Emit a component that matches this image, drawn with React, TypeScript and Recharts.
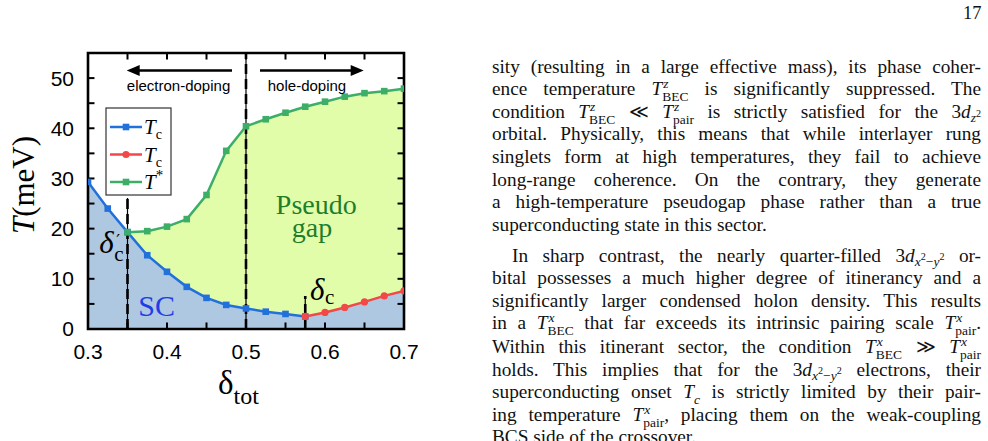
import React from 'react'
import {
  ComposedChart,
  Area,
  Line,
  XAxis,
  YAxis,
  ReferenceLine,
  ReferenceArea,
  ReferenceDot,
  Label,
} from 'recharts'

// total doping (x axis)
const doping = [0.3, 0.325, 0.35, 0.375, 0.4, 0.425, 0.45, 0.475, 0.5, 0.525, 0.55, 0.575, 0.6, 0.625, 0.65, 0.675, 0.7]
// Tc on the electron-doped / low-doping side (blue)
const tcBlue = [29.3, 24.0, 19.3, 14.7, 11.4, 8.4, 6.2, 4.8, 4.1, 3.45, 3.0, 2.5, null, null, null, null, null]
// Tc beyond delta_c (red)
const tcRed = [null, null, null, null, null, null, null, null, null, null, null, 2.5, 3.3, 4.3, 5.4, 6.6, 7.6]
// pseudogap temperature T*
const tStar = [null, null, 19.3, 19.5, 20.4, 21.9, 26.7, 35.5, 40.4, 41.8, 43.1, 44.3, 45.3, 46.3, 47.0, 47.4, 47.9]

const xTicks = [0.3, 0.4, 0.5, 0.6, 0.7]
const yTicks = [0, 10, 20, 30, 40, 50]
const xMinor = [0.35, 0.4, 0.45, 0.5, 0.55, 0.6, 0.65]
const yMinor = [5, 10, 15, 20, 25, 30, 35, 40, 45, 50]

const rows = doping.map((d, i) => ({
  d,
  tcBlue: tcBlue[i],
  tcRed: tcRed[i],
  tc: tcBlue[i] ?? tcRed[i],
  tStar: tStar[i],
}))

const BLUE = '#2170dc'
const RED = '#f24848'
const GREEN = '#3cae68'
const SC_FILL = '#aec8e2'
const PG_FILL = '#e2fdaa'
const SERIF = '"Liberation Serif", "Times New Roman", serif'
const SANS = '"Liberation Sans", Arial, sans-serif'

const X0 = 0.3
const X1 = 0.7
const Y0 = 0
const Y1 = 55

const squareDot = (color: string) => (p: any) => {
  if (p.cx == null || p.cy == null || p.value == null) return <g key={p.index} />
  return <rect key={p.index} x={p.cx - 3.3} y={p.cy - 3.3} width={6.6} height={6.6} fill={color} />
}

const roundDot = (color: string) => (p: any) => {
  if (p.cx == null || p.cy == null || p.value == null) return <g key={p.index} />
  return <circle key={p.index} cx={p.cx} cy={p.cy} r={3.6} fill={color} />
}

const arrow = (p: any) => {
  const { x1, y1, x2, y2 } = p
  const dir = Math.sign(x2 - x1)
  return (
    <g>
      <line x1={x1} y1={y1} x2={x2 - dir * 8} y2={y2} stroke="#000" strokeWidth={2.4} />
      <polygon points={`${x2},${y2} ${x2 - dir * 13},${y2 - 5.5} ${x2 - dir * 13},${y2 + 5.5}`} fill="#000" />
    </g>
  )
}

// thin solid line with heavy dashes on top
const dashedMarker = (p: any) => (
  <g>
    <line x1={p.x1} y1={p.y1} x2={p.x2} y2={p.y2} stroke="#000" strokeWidth={1.2} />
    <line x1={p.x1} y1={p.y1} x2={p.x2} y2={p.y2} stroke="#000" strokeWidth={2.6} strokeDasharray="10 5" />
  </g>
)

const tickMark = (p: any) => <line x1={p.x1} y1={p.y1} x2={p.x2} y2={p.y2} stroke="#000" strokeWidth={2} />

function Chart() {
  return (
    <ComposedChart
      width={470}
      height={441}
      data={rows}
      margin={{ top: 53, right: 66, left: 0, bottom: 82 }}
    >
      <XAxis
        dataKey="d"
        type="number"
        domain={[X0, X1]}
        ticks={xTicks}
        tickFormatter={(v: number) => v.toFixed(1)}
        axisLine={false}
        tickLine={false}
        tickMargin={9}
        height={30}
        tick={{ fill: '#000', fontSize: 21, fontFamily: SANS }}
        allowDataOverflow
      >
        <Label
          content={(p: any) => {
            const vb = p.viewBox
            const x = vb.x + 130
            const y = vb.y + 65
            return (
              <text x={x} y={y} fontFamily={SERIF} fontSize={33} fill="#000">
                δ<tspan fontSize={24} dy={10}>tot</tspan>
              </text>
            )
          }}
        />
      </XAxis>
      <YAxis
        type="number"
        domain={[Y0, Y1]}
        ticks={yTicks}
        axisLine={false}
        tickLine={false}
        tickMargin={8}
        width={88}
        tick={{ fill: '#000', fontSize: 21, fontFamily: SANS }}
        allowDataOverflow
      >
        <Label
          content={(p: any) => {
            const vb = p.viewBox
            const x = vb.x + 34
            const y = vb.y + vb.height / 2 - 6
            return (
              <text
                x={x}
                y={y}
                transform={`rotate(-90 ${x} ${y})`}
                textAnchor="middle"
                fontFamily={SERIF}
                fontSize={31}
                fill="#000"
              >
                <tspan fontStyle="italic">T</tspan>(meV)
              </text>
            )
          }}
        />
      </YAxis>

      <Area dataKey="tStar" fill={PG_FILL} fillOpacity={1} stroke="none" isAnimationActive={false} />
      <Area dataKey="tc" fill={SC_FILL} fillOpacity={1} stroke="none" isAnimationActive={false} />

      <ReferenceLine segment={[{ x: 0.35, y: 0 }, { x: 0.35, y: 26.1 }]} shape={dashedMarker} />
      <ReferenceLine segment={[{ x: 0.5, y: 0 }, { x: 0.5, y: Y1 }]} shape={dashedMarker} />
      <ReferenceLine segment={[{ x: 0.575, y: 0 }, { x: 0.575, y: 6.6 }]} shape={dashedMarker} />

      <ReferenceLine segment={[{ x: 0.4823, y: 51.5 }, { x: 0.349, y: 51.5 }]} shape={arrow} />
      <ReferenceLine segment={[{ x: 0.5177, y: 51.5 }, { x: 0.649, y: 51.5 }]} shape={arrow} />

      {xMinor.map((v) => (
        <ReferenceLine key={`xb${v}`} segment={[{ x: v, y: Y0 }, { x: v, y: Y0 + 1.3 }]} shape={tickMark} />
      ))}
      {xMinor.map((v) => (
        <ReferenceLine key={`xt${v}`} segment={[{ x: v, y: Y1 }, { x: v, y: Y1 - 1.3 }]} shape={tickMark} />
      ))}
      {yMinor.map((v) => (
        <ReferenceLine key={`yl${v}`} segment={[{ x: X0, y: v }, { x: X0 + 0.0082, y: v }]} shape={tickMark} />
      ))}
      {yMinor.map((v) => (
        <ReferenceLine key={`yr${v}`} segment={[{ x: X1, y: v }, { x: X1 - 0.0082, y: v }]} shape={tickMark} />
      ))}

      <Line
        dataKey="tcBlue"
        stroke={BLUE}
        strokeWidth={2.5}
        dot={squareDot(BLUE)}
        activeDot={false}
        isAnimationActive={false}
      />
      <Line
        dataKey="tcRed"
        stroke={RED}
        strokeWidth={2.5}
        dot={roundDot(RED)}
        activeDot={false}
        isAnimationActive={false}
      />
      <Line
        dataKey="tStar"
        stroke={GREEN}
        strokeWidth={2.5}
        dot={squareDot(GREEN)}
        activeDot={false}
        isAnimationActive={false}
      />

      <ReferenceArea x1={X0} x2={X1} y1={Y0} y2={Y1} fill="none" stroke="#000" strokeWidth={2.6} />

      <ReferenceDot
        x={0.4146}
        y={47.4}
        r={0}
        shape={(p: any) => (
          <text x={p.cx} y={p.cy} textAnchor="middle" fontFamily={SANS} fontSize={15} fill="#000">
            electron-doping
          </text>
        )}
      />
      <ReferenceDot
        x={0.5772}
        y={47.4}
        r={0}
        shape={(p: any) => (
          <text x={p.cx} y={p.cy} textAnchor="middle" fontFamily={SANS} fontSize={15} fill="#000">
            hole-doping
          </text>
        )}
      />
      <ReferenceDot
        x={0.589}
        y={22.9}
        r={0}
        shape={(p: any) => (
          <text x={p.cx} y={p.cy} textAnchor="middle" fontFamily={SERIF} fontSize={28} fill="#1f7d2a">
            Pseudo
          </text>
        )}
      />
      <ReferenceDot
        x={0.5835}
        y={18.3}
        r={0}
        shape={(p: any) => (
          <text x={p.cx} y={p.cy} textAnchor="middle" fontFamily={SERIF} fontSize={28} fill="#1f7d2a">
            gap
          </text>
        )}
      />
      <ReferenceDot
        x={0.3869}
        y={2.6}
        r={0}
        shape={(p: any) => (
          <text x={p.cx} y={p.cy} textAnchor="middle" fontFamily={SERIF} fontSize={30} fill="#1f3fe6">
            SC
          </text>
        )}
      />
      <ReferenceDot
        x={0.3143}
        y={15.1}
        r={0}
        shape={(p: any) => (
          <g fill="#000">
            <text x={p.cx} y={p.cy} fontFamily={SERIF} fontSize={31} fontStyle="italic">δ</text>
            <text x={p.cx + 17} y={p.cy - 7} fontFamily='"DejaVu Serif", serif' fontSize={17}>′</text>
            <text x={p.cx + 15} y={p.cy + 8} fontFamily={SERIF} fontSize={21}>c</text>
          </g>
        )}
      />
      <ReferenceDot
        x={0.581}
        y={5.8}
        r={0}
        shape={(p: any) => (
          <g fontFamily={SERIF} fill="#000">
            <text x={p.cx} y={p.cy} fontSize={31} fontStyle="italic">δ</text>
            <text x={p.cx + 15} y={p.cy + 4} fontSize={21}>c</text>
          </g>
        )}
      />
    </ComposedChart>
  )
}

const legendItems = [
  { color: BLUE, marker: 'square', label: 'T', sub: 'c', sup: '' },
  { color: RED, marker: 'circle', label: 'T', sub: 'c', sup: '' },
  { color: GREEN, marker: 'square', label: 'T', sub: '', sup: '*' },
]

function ChartLegend() {
  return (
    <svg width={68} height={90} style={{ position: 'absolute', left: 105, top: 107 }}>
      <rect x={1} y={1} width={65} height={87} fill="#fff" stroke="#333" strokeWidth={1.2} />
      {legendItems.map((it, i) => {
        const y = 20 + i * 27.5
        return (
          <g key={i}>
            <line x1={5} y1={y} x2={37} y2={y} stroke={it.color} strokeWidth={2.5} />
            {it.marker === 'square' ? (
              <rect x={17.7} y={y - 3.3} width={6.6} height={6.6} fill={it.color} />
            ) : (
              <circle cx={21} cy={y} r={3.6} fill={it.color} />
            )}
            <text x={39} y={y + 7} fontFamily={SERIF} fontSize={21} fill="#000">
              <tspan fontStyle="italic">{it.label}</tspan>
              {it.sub && (
                <tspan fontSize={14} dy={5}>
                  {it.sub}
                </tspan>
              )}
              {it.sup && (
                <tspan fontSize={15} dy={-9}>
                  {it.sup}
                </tspan>
              )}
            </text>
          </g>
        )
      })}
    </svg>
  )
}

// T with stacked super/subscripts, as typeset in the body text
function Sym({ base, sup, sub, subItalic }: { base: string; sup?: string; sub?: string; subItalic?: boolean }) {
  const wide = (sup ?? '').length >= (sub ?? '').length ? sup : sub
  return (
    <span style={{ whiteSpace: 'nowrap' }}>
      <i>{base}</i>
      <span style={{ position: 'relative', display: 'inline-block', fontSize: '0.7em' }}>
        <span style={{ visibility: 'hidden' }}>{wide}</span>
        {sup && <i style={{ position: 'absolute', left: 1, top: '-0.5em' }}>{sup}</i>}
        {sub && (
          <span style={{ position: 'absolute', left: 0, top: '0.45em', fontStyle: subItalic ? 'italic' : 'normal' }}>
            {sub}
          </span>
        )}
      </span>
    </span>
  )
}

const Dz2 = () => (
  <span style={{ whiteSpace: 'nowrap' }}>
    3<i>d</i>
    <span style={{ fontSize: '0.7em', position: 'relative', top: '0.3em' }}>
      <i>z</i>
      <span style={{ fontSize: '0.75em', position: 'relative', top: '-0.5em' }}>2</span>
    </span>
  </span>
)

const Dx2y2 = () => (
  <span style={{ whiteSpace: 'nowrap' }}>
    3<i>d</i>
    <span style={{ fontSize: '0.7em', position: 'relative', top: '0.3em' }}>
      <i>x</i>
      <span style={{ fontSize: '0.75em', position: 'relative', top: '-0.5em' }}>2</span>−<i>y</i>
      <span style={{ fontSize: '0.75em', position: 'relative', top: '-0.5em' }}>2</span>
    </span>
  </span>
)

const textLines: { y: number; indent?: number; last?: boolean; content: React.ReactNode }[] = [
  { y: 73, content: <>sity (resulting in a large effective mass), its phase coher-</> },
  { y: 95.6, content: <>ence temperature <Sym base="T" sup="z" sub="BEC" /> is significantly suppressed. The</> },
  {
    y: 118.2,
    content: (
      <>
        condition <Sym base="T" sup="z" sub="BEC" /> ≪ <Sym base="T" sup="z" sub="pair" /> is strictly satisfied for the <Dz2 />
      </>
    ),
  },
  { y: 140.8, content: <>orbital. Physically, this means that while interlayer rung</> },
  { y: 163.4, content: <>singlets form at high temperatures, they fail to achieve</> },
  { y: 186, content: <>long-range coherence. On the contrary, they generate</> },
  { y: 208.6, content: <>a high-temperature pseudogap phase rather than a true</> },
  { y: 231.2, last: true, content: <>superconducting state in this sector.</> },
  { y: 262, indent: 20, content: <>In sharp contrast, the nearly quarter-filled <Dx2y2 /> or-</> },
  { y: 284.5, content: <>bital possesses a much higher degree of itinerancy and a</> },
  { y: 307, content: <>significantly larger condensed holon density. This results</> },
  {
    y: 329.5,
    content: (
      <>
        in a <Sym base="T" sup="x" sub="BEC" /> that far exceeds its intrinsic pairing scale <Sym base="T" sup="x" sub="pair" />.
      </>
    ),
  },
  {
    y: 353.5,
    content: (
      <>
        Within this itinerant sector, the condition <Sym base="T" sup="x" sub="BEC" /> ≫ <Sym base="T" sup="x" sub="pair" />
      </>
    ),
  },
  { y: 376, content: <>holds. This implies that for the <Dx2y2 /> electrons, their</> },
  {
    y: 398.5,
    content: (
      <>
        superconducting onset <Sym base="T" sub="c" subItalic /> is strictly limited by their pair-
      </>
    ),
  },
  {
    y: 421,
    content: (
      <>
        ing temperature <Sym base="T" sup="x" sub="pair" />, placing them on the weak-coupling
      </>
    ),
  },
  { y: 443.5, last: true, content: <>BCS side of the crossover.</> },
]

export default function App() {
  return (
    <div
      style={{
        position: 'absolute',
        left: 0,
        top: 0,
        width: 988,
        height: 441,
        overflow: 'hidden',
        background: '#fff',
      }}
    >
      <Chart />
      <ChartLegend />
      <div
        style={{
          position: 'absolute',
          left: 963,
          top: 2,
          fontFamily: SERIF,
          fontSize: 18.5,
          lineHeight: '22px',
          color: '#111',
        }}
      >
        17
      </div>
      {textLines.map((ln, i) => (
        <div
          key={i}
          style={{
            position: 'absolute',
            left: 492 + (ln.indent ?? 0),
            top: ln.y - 17.5,
            width: 489 - (ln.indent ?? 0),
            fontFamily: SERIF,
            fontSize: 19.3,
            lineHeight: '22px',
            color: '#111',
            whiteSpace: 'nowrap',
            textAlign: ln.last ? 'left' : 'justify',
            textAlignLast: ln.last ? 'left' : 'justify',
          }}
        >
          {ln.content}
        </div>
      ))}
    </div>
  )
}
